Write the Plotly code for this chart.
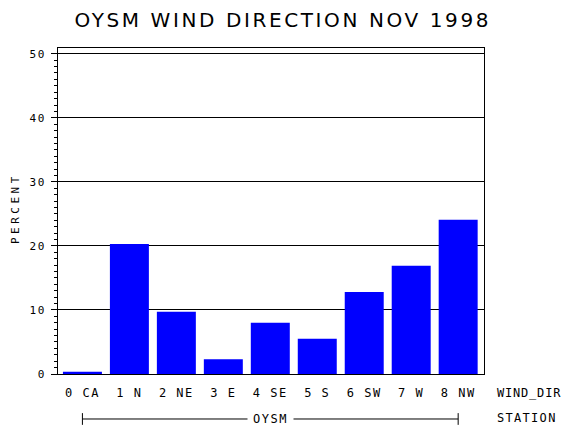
import plotly.graph_objects as go

categories = ["0 CA", "1 N", "2 NE", "3 E", "4 SE", "5 S", "6 SW", "7 W", "8 NW"]
percent = [0.35, 20.3, 9.7, 2.3, 8.0, 5.5, 12.8, 16.9, 24.1]
y_ticks = [0, 10, 20, 30, 40, 50]
station = "OYSM"
title = "OYSM WIND DIRECTION NOV 1998"

def ls(s, px):
    return '<span style="letter-spacing:%spx">%s</span>' % (px, s)

x_idx = list(range(len(categories)))
mono = "DejaVu Sans Mono"

fig = go.Figure()
fig.add_trace(go.Bar(x=x_idx, y=percent, marker=dict(color="#0000FF", line=dict(width=0)),
                     showlegend=False))

fig.update_layout(
    width=570, height=430,
    margin=dict(l=50, r=94, t=40, b=64, autoexpand=False),
    paper_bgcolor="white", plot_bgcolor="white",
    bargap=0.17,
    title=dict(text=ls(title, 2.6), x=0.482, xanchor="center", y=0.972, yanchor="middle",
               font=dict(family="DejaVu Sans", size=20, color="black")),
    font=dict(family=mono, color="black"),
)
fig.update_xaxes(
    range=[-0.52, 8.55], tickvals=x_idx, ticktext=[ls(c, 1.5) for c in categories],
    showline=True, linecolor="black", linewidth=1, mirror=True,
    ticks="", showgrid=False, zeroline=False, automargin=False,
    tickfont=dict(family=mono, size=12, color="black"),
    ticklabelstandoff=8,
)
fig.update_yaxes(
    range=[0, 50.9], tickvals=y_ticks, ticktext=[ls(str(v), 1.5) for v in y_ticks],
    showline=True, linecolor="black", linewidth=1, mirror=True,
    ticks="outside", ticklen=6, tickcolor="black",
    minor=dict(dtick=1, ticks="outside", ticklen=3, tickcolor="black", showgrid=False),
    showgrid=True, gridcolor="black", gridwidth=1, zeroline=False, automargin=False,
    tickfont=dict(family=mono, size=11, color="black"),
    ticklabelstandoff=3,
)

fig.add_annotation(x=-0.101, y=0.509, xref="paper", yref="paper", xanchor="center", yanchor="middle",
                   text=ls("PERCENT", 3.5), textangle=-90, showarrow=False,
                   font=dict(family=mono, size=11, color="black"))
fig.add_annotation(x=1.026, y=-0.058, xref="paper", yref="paper", xanchor="left", yanchor="middle",
                   text=ls("WIND_DIR", 0.8), showarrow=False, font=dict(family=mono, size=12, color="black"))
fig.add_annotation(x=1.026, y=-0.135, xref="paper", yref="paper", xanchor="left", yanchor="middle",
                   text=ls("STATION", 1.3), showarrow=False, font=dict(family=mono, size=12, color="black"))
# bracket for station
fig.add_shape(type="line", x0=0, x1=8, xref="x", y0=-0.138, y1=-0.138, yref="paper",
              line=dict(color="black", width=1))
fig.add_shape(type="line", x0=0, x1=0, xref="x", y0=-0.12, y1=-0.156, yref="paper",
              line=dict(color="black", width=1))
fig.add_shape(type="line", x0=8, x1=8, xref="x", y0=-0.12, y1=-0.156, yref="paper",
              line=dict(color="black", width=1))
fig.add_annotation(x=4, y=-0.138, xref="x", yref="paper", xanchor="center", yanchor="middle",
                   text=ls(station, 1.5), showarrow=False, bgcolor="white", borderpad=5,
                   font=dict(family=mono, size=12, color="black"))

fig.write_html("out.html")
